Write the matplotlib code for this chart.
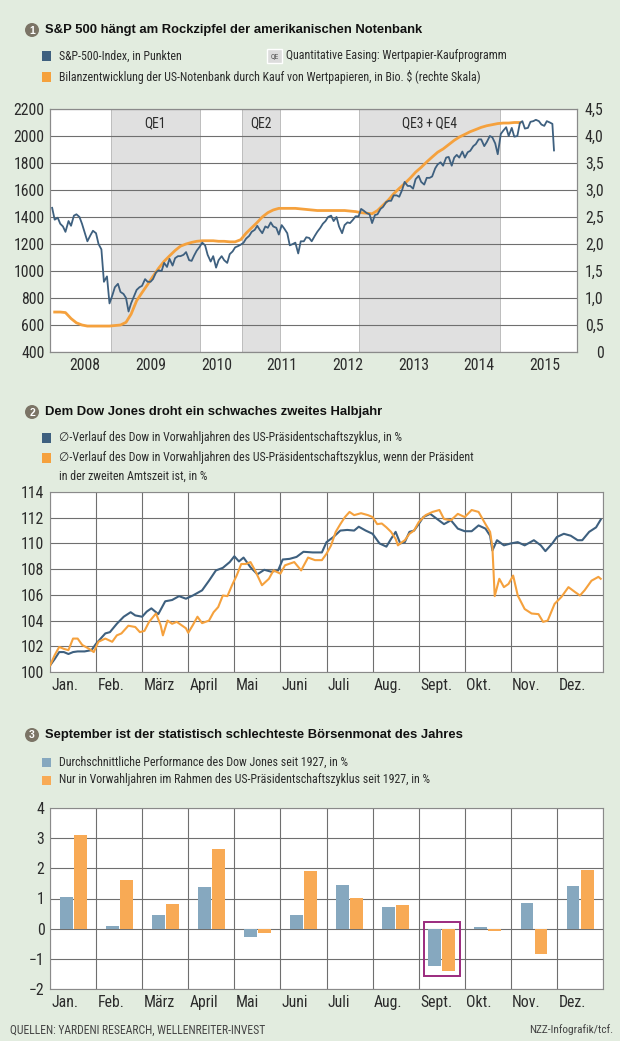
import numpy as np
import pandas as pd
import matplotlib

matplotlib.use("Agg")
import matplotlib.pyplot as plt
from matplotlib.patches import Rectangle, Ellipse

W, H = 620, 1041
BG = "#e2ecdf"
BLUE = "#3e607f"
ORANGE = "#f5a13d"
BAR_BLUE = "#86a8bf"
BAR_ORANGE = "#f8aa55"
GRID = "#6f6f6f"
TXT = "#2b2b2b"
NARROW = ["Roboto Condensed", "DejaVu Sans"]
BOLD = ["Liberation Sans", "DejaVu Sans"]

# ---- panel 1: S&P 500 (semi-monthly) and Fed securities holdings
spx_values = [
    # 2008
    1468, 1380, 1395, 1350, 1330, 1290, 1370, 1335, 1410, 1420, 1400, 1350,
    1280, 1220, 1265, 1298, 1280, 1200, 1160, 920, 960, 760, 820, 880,
    # 2009
    905, 845, 830, 800, 700, 760, 815, 860, 880, 890, 940, 920,
    920, 940, 990, 1005, 1000, 1060, 1030, 1090, 1040, 1095, 1110, 1110,
    # 2010
    1120, 1140, 1080, 1075, 1115, 1150, 1180, 1210, 1190, 1120, 1070, 1110,
    1025, 1080, 1110, 1080, 1060, 1125, 1145, 1175, 1185, 1195, 1210, 1240,
    # 2011
    1260, 1290, 1305, 1335, 1305, 1280, 1330, 1320, 1360, 1330, 1320, 1270,
    1340, 1315, 1280, 1190, 1200, 1210, 1130, 1220, 1220, 1250, 1245, 1220,
    # 2012
    1260, 1290, 1320, 1350, 1370, 1400, 1410, 1370, 1400, 1330, 1280, 1340,
    1360, 1355, 1380, 1405, 1405, 1460, 1445, 1430, 1420, 1355, 1415, 1420,
    # 2013
    1460, 1475, 1510, 1520, 1520, 1560, 1560, 1550, 1600, 1660, 1630, 1630,
    1610, 1680, 1705, 1660, 1640, 1690, 1690, 1700, 1760, 1790, 1805, 1780,
    # 2014
    1840, 1845, 1780, 1840, 1860, 1840, 1885, 1840, 1880, 1890, 1925, 1940,
    1975, 1975, 1925, 1955, 2000, 1990, 1945, 1865, 2015, 2040, 2065, 2000,
    # 2015
    2060, 1995, 2000, 2095, 2110, 2055, 2060, 2105, 2110, 2120, 2110, 2085,
    2075, 2110, 2100, 2090,
]
spx_last_date = "2015-08-24"
spx_last_value = 1893

fed_values = [
    0.74, 0.74, 0.73, 0.62, 0.54, 0.50, 0.48, 0.48, 0.48, 0.48, 0.48, 0.49,
    0.50, 0.55, 0.70, 0.95, 1.10, 1.25, 1.40, 1.55, 1.68, 1.78, 1.88, 1.96,
    2.00, 2.03, 2.05, 2.06, 2.06, 2.06, 2.05, 2.05, 2.04, 2.04, 2.08, 2.20,
    2.30, 2.40, 2.50, 2.58, 2.63, 2.66, 2.66, 2.66, 2.66, 2.65, 2.64, 2.63,
    2.62, 2.62, 2.62, 2.62, 2.62, 2.62, 2.61, 2.60, 2.58, 2.57, 2.56, 2.62,
    2.72, 2.82, 2.93, 3.03, 3.12, 3.22, 3.33, 3.42, 3.52, 3.61, 3.70, 3.76,
    3.84, 3.92, 3.98, 4.03, 4.08, 4.12, 4.16, 4.19, 4.21, 4.23, 4.24, 4.24,
    4.25, 4.25,
]

qe_names = ["QE1", "QE2", "QE3\u2009+\u2009QE4"]
qe_starts = ["2008-11-25", "2010-11-20", "2012-09-01"]
qe_ends = ["2010-03-31", "2011-06-20", "2014-10-29"]
years = list(range(2008, 2016))

# ---- panel 2: average Dow path in pre-election years (month position, % level)
dow_all_m = [0, 0.1, 0.2, 0.3, 0.4, 0.5, 0.6, 0.75, 0.9, 1.0, 1.1, 1.2, 1.3,
             1.45, 1.6, 1.75, 1.85, 2.0, 2.1, 2.2, 2.35, 2.5, 2.65, 2.8, 2.95,
             3.1, 3.3, 3.45, 3.6, 3.75, 3.9, 4.0, 4.1, 4.2, 4.35, 4.5, 4.65,
             4.8, 4.95, 5.05, 5.2, 5.35, 5.5, 5.7, 5.9, 6.0, 6.15, 6.3, 6.45,
             6.6, 6.7, 6.85, 7.0, 7.15, 7.3, 7.4, 7.5, 7.6, 7.7, 7.8, 7.9,
             8.0, 8.1, 8.25, 8.4, 8.55, 8.7, 8.85, 9.0, 9.15, 9.3, 9.45, 9.55,
             9.6, 9.7, 9.85, 10.0, 10.15, 10.3, 10.5, 10.65, 10.75, 10.9, 11.0,
             11.15, 11.3, 11.45, 11.55, 11.7, 11.85, 11.95]
dow_all = [100.5, 101.0, 101.55, 101.55, 101.4, 101.55, 101.6, 101.6, 101.7,
           102.2, 102.6, 103.0, 103.1, 103.75, 104.3, 104.65, 104.4, 104.3,
           104.7, 104.95, 104.5, 105.5, 105.6, 105.9, 105.7, 105.95, 106.35,
           107.1, 107.9, 108.1, 108.55, 109.0, 108.6, 108.9, 108.15, 107.6,
           107.95, 107.8, 107.9, 108.75, 108.8, 108.95, 109.35, 109.3, 109.3,
           110.1, 110.5, 111.0, 111.05, 111.0, 111.3, 111.0, 110.75, 110.0,
           109.75, 110.35, 110.9, 110.0, 110.1, 110.9, 111.0, 111.5, 112.05,
           112.3, 111.9, 111.5, 111.8, 111.15, 110.95, 110.95, 111.4, 111.15,
           110.6, 109.45, 110.25, 109.85, 110.0, 110.1, 109.85, 110.25, 109.85,
           109.4, 110.0, 110.5, 110.75, 110.6, 110.25, 110.25, 110.9, 111.25,
           111.85]
dow_second_m = [0, 0.1, 0.2, 0.3, 0.4, 0.5, 0.6, 0.7, 0.85, 0.95, 1.05, 1.2,
                1.35, 1.45, 1.55, 1.7, 1.85, 1.95, 2.05, 2.15, 2.3, 2.4, 2.45,
                2.55, 2.65, 2.75, 2.85, 2.95, 3.0, 3.1, 3.2, 3.3, 3.45, 3.55,
                3.65, 3.75, 3.85, 3.95, 4.05, 4.15, 4.25, 4.35, 4.45, 4.6, 4.75,
                4.85, 5.0, 5.1, 5.3, 5.45, 5.6, 5.75, 5.9, 6.0, 6.1, 6.2, 6.3,
                6.4, 6.5, 6.6, 6.75, 6.9, 7.0, 7.1, 7.2, 7.3, 7.4, 7.5, 7.55,
                7.6, 7.7, 7.8, 7.9, 8.0, 8.15, 8.3, 8.45, 8.55, 8.7, 8.85, 9.0,
                9.15, 9.3, 9.45, 9.55, 9.6, 9.65, 9.75, 9.85, 9.95, 10.05,
                10.15, 10.3, 10.45, 10.6, 10.7, 10.8, 10.95, 11.1, 11.25, 11.4,
                11.5, 11.6, 11.75, 11.9, 11.95]
dow_second = [100.5, 101.3, 101.95, 101.8, 101.7, 102.6, 102.6, 102.1, 101.8,
              101.55, 102.35, 102.6, 102.35, 102.85, 103.0, 103.6, 103.5,
              103.1, 103.2, 103.9, 104.55, 103.65, 102.85, 104.0, 103.75,
              103.9, 103.65, 103.4, 103.05, 103.65, 104.3, 103.8, 104.0,
              104.65, 105.05, 105.95, 105.9, 106.75, 107.5, 108.4, 108.4,
              108.55, 107.9, 106.75, 107.25, 107.9, 107.65, 108.3, 108.55,
              107.9, 108.9, 108.7, 108.7, 109.2, 109.85, 110.9, 111.5, 112.05,
              112.45, 112.2, 112.35, 112.2, 112.05, 111.5, 111.55, 111.25,
              110.9, 110.35, 109.85, 110.0, 110.25, 110.75, 111.0, 111.65,
              112.2, 112.45, 112.6, 111.9, 111.8, 112.3, 112.05, 112.6, 112.45,
              111.5, 110.9, 109.7, 105.9, 107.25, 106.6, 106.85, 107.5, 105.95,
              104.9, 104.55, 104.5, 103.9, 104.0, 105.3, 105.85, 106.6, 106.2,
              105.95, 106.35, 107.1, 107.4, 107.25]

# ---- panel 3: average monthly performance
months = ["Jan.", "Feb.", "März", "April", "Mai", "Juni", "Juli", "Aug.",
          "Sept.", "Okt.", "Nov.", "Dez."]
perf_all = [1.05, 0.09, 0.44, 1.38, -0.28, 0.44, 1.45, 0.72, -1.24, 0.06, 0.86, 1.40]
perf_pre = [3.09, 1.62, 0.81, 2.65, -0.15, 1.91, 1.03, 0.78, -1.40, -0.09, -0.83, 1.93]

TICK_SIZE = 11.3
LEG_SIZE = 8.55


def fx(x):
    return x / W


def fy(y):
    return 1 - y / H


def add_ax(l, t, r, b):
    return fig.add_axes([fx(l), fy(b), (r - l) / W, (b - t) / H])


def square(x, y, color, s=9):
    fig.add_artist(Rectangle((fx(x - s / 2), fy(y + s / 2)), s / W, s / H,
                             transform=fig.transFigure, color=color, lw=0))


def heading(num, y, text):
    fig.add_artist(Ellipse((fx(32), fy(y)), 14 / W, 14 / H, transform=fig.transFigure,
                           fc="#7b7466", ec="none"))
    fig.text(fx(32), fy(y + 0.5), num, ha="center", va="center", color="white",
             fontsize=7.5, fontweight="bold", family=BOLD)
    fig.text(fx(45), fy(y), text, ha="left", va="center", color="#111111",
             fontsize=9.4, fontweight="bold", family=BOLD)


def legend_line(x, y, text, color=None):
    if color is not None:
        square(x - 13, y, color)
    fig.text(fx(x), fy(y), text, ha="left", va="center", color=TXT,
             fontsize=LEG_SIZE, family=NARROW)


def style_axes(ax):
    ax.set_facecolor("white")
    ax.tick_params(length=0, labelsize=TICK_SIZE, colors=TXT, pad=4)
    for lab in ax.get_xticklabels(which="both") + ax.get_yticklabels():
        lab.set_family(NARROW)
    for s in ax.spines.values():
        s.set_color("#8a8a8a")
        s.set_linewidth(0.8)


fig = plt.figure(figsize=(W / 100, H / 100), dpi=100)
fig.patch.set_facecolor(BG)

# =============== panel 1
heading("1", 30, "S&P 500 hängt am Rockzipfel der amerikanischen Notenbank")
legend_line(59, 56, "S&P-500-Index, in Punkten", BLUE)
fig.add_artist(Rectangle((fx(267), fy(63)), 15 / W, 14 / H, transform=fig.transFigure,
                         fc="#dcdcdc", ec="white", lw=1))
fig.text(fx(274.5), fy(56), "QE", ha="center", va="center", fontsize=5.5,
         color="#555555", family=NARROW)
legend_line(286, 56, "Quantitative Easing: Wertpapier-Kaufprogramm")
legend_line(59, 77, "Bilanzentwicklung der US-Notenbank durch Kauf von Wertpapieren, "
                    "in Bio. $ (rechte Skala)", ORANGE)

spx_dates = list(pd.date_range("2008-01-01", periods=len(spx_values), freq="SMS"))
spx_dates.append(pd.Timestamp(spx_last_date))
spx_line = spx_values + [spx_last_value]
fed_dates = pd.date_range("2008-01-01", periods=len(fed_values), freq="MS") + pd.Timedelta(days=14)

ax1 = add_ax(50, 109, 577, 352)
ax1r = ax1.twinx()
ax1.set_zorder(2)
ax1.patch.set_visible(False)
ax1r.set_zorder(1)
ax1r.patch.set_visible(True)
ax1r.set_facecolor("white")

for name, s, e in zip(qe_names, qe_starts, qe_ends):
    s, e = pd.Timestamp(s), pd.Timestamp(e)
    ax1r.axvspan(s, e, fc="#e0e0e0", ec="#b5b5b5", lw=0.6, zorder=0)
    ax1r.text(s + (e - s) / 2, 4.24, name, ha="center", va="center",
              fontsize=9.8, color=TXT, family=NARROW)

ax1r.plot(fed_dates, fed_values, color=ORANGE, lw=2.0, zorder=3)
ax1.plot(spx_dates, spx_line, color=BLUE, lw=1.3, zorder=3)

ax1.set_xlim(pd.Timestamp("2007-12-20"), pd.Timestamp("2015-12-30"))
ax1.set_ylim(400, 2200)
ax1r.set_ylim(0, 4.5)
ax1.set_yticks(np.arange(400, 2201, 200))
ax1r.set_yticks(np.arange(0, 4.51, 0.5))
ax1r.set_yticklabels(["0"] + [f"{v:.1f}".replace(".", ",") for v in np.arange(0.5, 4.51, 0.5)])
year_starts = [pd.Timestamp(f"{y}-01-01") for y in years]
ax1r.set_xticks(year_starts)
ax1r.set_xticklabels([])
ax1r.grid(True, color=GRID, lw=0.8)
ax1.set_xticks([pd.Timestamp(f"{y}-07-02") for y in years])
ax1.set_xticklabels([str(y) for y in years])
style_axes(ax1)
style_axes(ax1r)
ax1r.tick_params(axis="y", pad=19)
for lab in ax1r.get_yticklabels():
    lab.set_horizontalalignment("right")

# =============== panel 2
heading("2", 412, "Dem Dow Jones droht ein schwaches zweites Halbjahr")
legend_line(59, 438, "∅-Verlauf des Dow in Vorwahljahren des US-Präsidentschaftszyklus, in %", BLUE)
legend_line(59, 458, "∅-Verlauf des Dow in Vorwahljahren des US-Präsidentschaftszyklus, "
                     "wenn der Präsident", ORANGE)
legend_line(59, 476, "in der zweiten Amtszeit ist, in %")

ax2 = add_ax(50, 492, 603, 672)
ax2.plot(dow_all_m, dow_all, color=BLUE, lw=1.5, zorder=3)
ax2.plot(dow_second_m, dow_second, color=ORANGE, lw=1.5, zorder=3)
ax2.set_xlim(0, 12)
ax2.set_ylim(100, 114)
ax2.set_yticks(np.arange(100, 115, 2))
ax2.set_xticks(np.arange(12) + 0.03, months, ha="left")
ax2.set_xticks(np.arange(13), minor=True)
ax2.grid(True, which="minor", axis="x", color=GRID, lw=0.8)
ax2.grid(True, which="major", axis="y", color=GRID, lw=0.8)
style_axes(ax2)
ax2.tick_params(which="minor", length=0)

# =============== panel 3
heading("3", 735, "September ist der statistisch schlechteste Börsenmonat des Jahres")
legend_line(59, 762, "Durchschnittliche Performance des Dow Jones seit 1927, in %", BAR_BLUE)
legend_line(59, 780, "Nur in Vorwahljahren im Rahmen des US-Präsidentschaftszyklus seit 1927, in %",
            BAR_ORANGE)

ax3 = add_ax(50, 808, 603, 989)
mx = np.arange(12)
ax3.bar(mx + 0.35, perf_all, width=0.28, color=BAR_BLUE, zorder=3)
ax3.bar(mx + 0.655, perf_pre, width=0.28, color=BAR_ORANGE, zorder=3)
sep = months.index("Sept.")
ax3.add_patch(Rectangle((sep + 0.12, perf_pre[sep] - 0.17), 0.78, 0.22 - perf_pre[sep] + 0.17,
                        fill=False, ec="#9b2a7e", lw=1.4, zorder=4))
ax3.set_xlim(0, 12)
ax3.set_ylim(-2, 4)
ax3.set_yticks(np.arange(-2, 5, 1))
ax3.set_yticklabels([f"{v}".replace("-", "\u2212") for v in range(-2, 5)])
ax3.set_xticks(mx + 0.03, months, ha="left")
ax3.set_xticks(np.arange(13), minor=True)
ax3.grid(True, which="minor", axis="x", color=GRID, lw=0.8)
ax3.grid(True, which="major", axis="y", color=GRID, lw=0.8)
style_axes(ax3)
ax3.tick_params(which="minor", length=0)

fig.text(fx(10), fy(1030), "QUELLEN: YARDENI RESEARCH, WELLENREITER-INVEST",
         ha="left", va="center", fontsize=8.4, color="#444444", family=NARROW)
fig.text(fx(613), fy(1030), "NZZ-Infografik/tcf.", ha="right", va="center",
         fontsize=8.2, color="#444444", family=NARROW)

fig.savefig("out.png", dpi=100, facecolor=BG)
